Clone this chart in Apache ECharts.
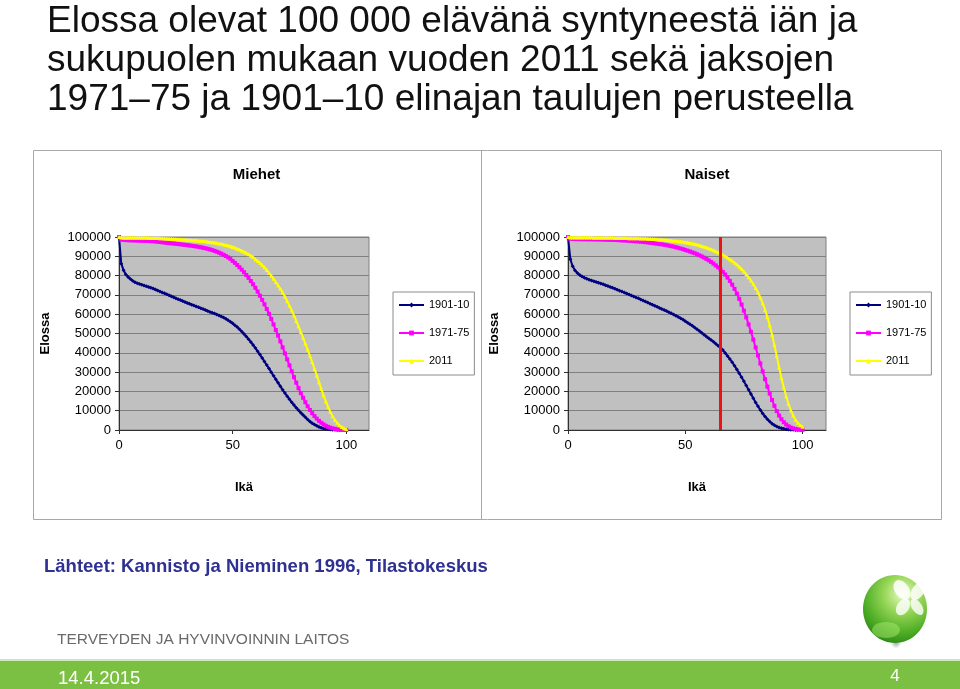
<!DOCTYPE html>
<html><head><meta charset="utf-8">
<script src="https://cdn.jsdelivr.net/npm/echarts@6/dist/echarts.min.js"></script>
<style>html,body{margin:0;padding:0;background:#fff}#c{width:960px;height:689px}</style>
</head><body><div id="c"></div>
<script>
// ---------------- DATA ----------------
const ages = Array.from({length: 101}, (_, i) => i);
const seriesNames = ['1901-10', '1971-75', '2011'];
const xTicks = [0, 50, 100];
const panelTitles = ['Miehet', 'Naiset'];
const redLineAge = 65;

// Men (Miehet)
const men1901 = [100000,86200,82800,80600,79300,78200,77300,76600,76100,75700,
75300,74900,74500,74100,73700,73300,72800,72300,71800,71300,
70800,70300,69800,69300,68800,68300,67800,67300,66800,66300,
65800,65350,64900,64450,64000,63550,63100,62650,62150,61700,
61200,60780,60340,59870,59370,58830,58240,57590,56880,56100,
55250,54320,53310,52220,51050,49800,48480,47080,45610,44070,
42460,40790,39070,37300,35500,33670,31820,29960,28100,26250,
24420,22620,20860,19140,17480,15880,14350,12890,11500,10190,
8950,7750,6600,5500,4450,3500,2800,2150,1600,1150,
800,540,350,220,130,80,45,25,12,6,3];
const men1971 = [100000,98600,98480,98400,98340,98290,98250,98210,98170,98130,
98090,98050,98000,97950,97890,97800,97690,97560,97420,97280,
97140,97000,96870,96740,96610,96480,96350,96210,96070,95930,
95780,95620,95460,95290,95110,94910,94690,94450,94190,93900,
93580,93220,92820,92380,91900,91370,90790,90160,89470,88710,
87600,86600,85500,84330,83080,81750,80330,78820,77210,75500,
73690,71700,69600,67400,65100,62700,60200,57500,54700,51800,
48900,45900,42800,39700,36600,33500,30400,27400,24500,21700,
19100,16700,14400,12300,10400,8700,7200,5900,4750,3750,
2900,2200,1650,1200,850,580,380,240,140,80,40];
const men2011 = [100000,99700,99670,99650,99630,99620,99610,99600,99590,99580,
99570,99560,99550,99540,99520,99500,99470,99430,99380,99320,
99250,99180,99110,99040,98970,98900,98830,98760,98690,98620,
98540,98460,98380,98290,98200,98100,97990,97870,97740,97600,
97450,97280,97100,96900,96680,96440,96170,95880,95560,95210,
94830,94410,93960,93470,92940,92370,91750,91080,90360,89580,
88500,87600,86600,85500,84300,82900,81500,80000,78400,76700,
75000,73200,71300,69200,66900,64500,62000,59300,56500,53700,
50800,47800,44800,41700,38500,35200,31800,28300,24800,21300,
18000,14900,12000,9400,7100,5200,3700,2500,1600,950,500];

// Women (Naiset)
const women1901 = [100000,88500,84800,82700,81300,80300,79500,78900,78400,77900,
77500,77100,76700,76300,75900,75500,75000,74550,74100,73650,
73200,72700,72200,71700,71200,70700,70200,69700,69200,68700,
68200,67650,67100,66550,66000,65450,64900,64350,63800,63250,
62700,62150,61600,61050,60450,59850,59250,58600,57900,57200,
56400,55600,54800,54000,53100,52200,51300,50400,49400,48400,
47500,46600,45700,44700,43700,42700,41500,39900,38400,36800,
35100,33300,31400,29400,27300,25200,23000,20800,18600,16400,
14300,12300,10400,8600,7000,5600,4400,3300,2500,1800,
1300,900,600,380,230,130,70,40,20,10,5];
const women1971 = [100000,99050,98980,98940,98910,98890,98870,98850,98830,98810,
98790,98770,98750,98730,98700,98670,98630,98590,98540,98490,
98440,98390,98330,98270,98200,98130,98050,97970,97880,97790,
97690,97580,97460,97330,97190,97040,96880,96710,96530,96330,
96200,96000,95780,95540,95280,95000,94700,94380,94040,93680,
93300,92900,92480,92040,91570,91070,90530,89950,89320,88640,
87900,87100,86230,85290,84270,83150,81920,80550,79000,77250,
75300,73100,70650,67950,65000,61800,58350,54700,50850,46850,
42750,38600,34450,30350,26350,22500,18900,15550,12500,9800,
7500,5600,4050,2850,1950,1300,850,540,330,200,120];
const women2011 = [100000,99780,99760,99750,99740,99730,99720,99710,99700,99690,
99680,99670,99660,99650,99640,99630,99610,99590,99570,99550,
99530,99510,99490,99470,99450,99430,99410,99380,99350,99320,
99290,99250,99210,99160,99110,99050,98990,98920,98840,98750,
98650,98560,98460,98350,98230,98100,97960,97810,97650,97480,
97300,97100,96880,96630,96360,96060,95730,95370,94980,94560,
94110,93630,93120,92580,92010,91400,90750,90050,89300,88500,
87640,86710,85700,84600,83400,82100,80700,79150,77450,75600,
73550,71250,68650,65700,62350,58550,54250,49400,44000,38300,
32500,27000,22000,17500,13600,10250,7500,5300,3700,2500,1700];

const titleLines = ['Elossa olevat 100 000 elävänä syntyneestä iän ja',
  'sukupuolen mukaan vuoden 2011 sekä jaksojen',
  '1971–75 ja 1901–10 elinajan taulujen perusteella'];
const sourceText = 'Lähteet: Kannisto ja Nieminen 1996, Tilastokeskus';
const orgText = 'TERVEYDEN JA HYVINVOINNIN LAITOS';
const dateText = '14.4.2015';
const pageText = '4';

// ---------------- CHART ----------------
const FONT = '"Liberation Sans", Arial, sans-serif';
const chart = echarts.init(document.getElementById('c'), null, {renderer: 'canvas'});

const styles = [
  {color: '#000080', symbol: 'diamond', size: 4},
  {color: '#ff00ff', symbol: 'rect', size: 4},
  {color: '#ffff00', symbol: 'triangle', size: 4}
];
const panels = [[men1901, men1971, men2011], [women1901, women1971, women2011]];
const grids = [
  {left: 119, top: 237, width: 250, height: 193},
  {left: 568, top: 237, width: 258, height: 193}
];

function toPairs(arr) { return ages.map((a, i) => [a, arr[i]]); }

const series = [];
panels.forEach((panel, gi) => {
  panel.forEach((arr, si) => {
    const s = {
      name: seriesNames[si], type: 'line', xAxisIndex: gi, yAxisIndex: gi,
      data: toPairs(arr), symbol: styles[si].symbol, symbolSize: styles[si].size,
      showSymbol: true, showAllSymbol: true,
      lineStyle: {color: styles[si].color, width: 2},
      itemStyle: {color: styles[si].color},
      z: 2 + si, animation: false
    };
    if (gi === 1 && si === 0) {
      s.markLine = {
        silent: true, symbol: 'none', label: {show: false},
        lineStyle: {color: '#ee1111', width: 3, type: 'solid'},
        data: [{xAxis: redLineAge}]
      };
    }
    series.push(s);
  });
});

const axisLabelStyle = {color: '#000', fontSize: 13, fontFamily: FONT};
const nameStyle = {color: '#000', fontSize: 13, fontWeight: 'bold', fontFamily: FONT};

const xAxes = grids.map((g, i) => ({
  gridIndex: i, type: 'value', min: 0, max: 110, interval: 50,
  name: 'Ikä', nameLocation: 'middle', nameGap: 51, nameTextStyle: nameStyle,
  axisLine: {show: true, onZero: false, lineStyle: {color: '#303030'}},
  axisTick: {show: true, length: 4, lineStyle: {color: '#303030'},
    customValues: xTicks},
  axisLabel: Object.assign({margin: 9, customValues: xTicks,
    formatter: v => (xTicks.indexOf(v) >= 0 ? String(v) : '')}, axisLabelStyle),
  splitLine: {show: false}
}));
const yAxes = grids.map((g, i) => ({
  gridIndex: i, type: 'value', min: 0, max: 100000, interval: 10000,
  name: 'Elossa', nameLocation: 'middle', nameGap: 67, nameTextStyle: nameStyle,
  axisLine: {show: true, lineStyle: {color: '#303030'}},
  axisTick: {show: true, length: 4, lineStyle: {color: '#303030'}},
  axisLabel: Object.assign({margin: 8, formatter: v => String(v)}, axisLabelStyle),
  splitLine: {show: true, lineStyle: {color: '#808080', width: 1}}
}));

function legendAt(left) {
  return {
    left: left, top: 292, orient: 'vertical', data: seriesNames,
    itemWidth: 25, itemHeight: 6, itemGap: 17,
    padding: [7.5, 5, 8.5, 5], borderColor: '#8c8c8c', borderWidth: 1,
    backgroundColor: '#ffffff', selectedMode: false,
    textStyle: {color: '#000', fontSize: 11, fontFamily: FONT}
  };
}

function txt(x, y, text, font, fill, align, valign) {
  return {type: 'text', x: x, y: y, silent: true,
    style: {text: text, font: font, fill: fill, align: align || 'left',
      verticalAlign: valign || 'middle', textAlign: align || 'left',
      textVerticalAlign: valign || 'middle'}};
}

const graphics = [
  {type: 'rect', silent: true, shape: {x: 33.5, y: 150.5, width: 908, height: 369},
    style: {fill: 'none', stroke: '#a8a8a8', lineWidth: 1}, z: -10},
  {type: 'line', silent: true, shape: {x1: 481.5, y1: 150.5, x2: 481.5, y2: 519.5},
    style: {stroke: '#a8a8a8', lineWidth: 1}, z: -10},
  txt(256.5, 175, panelTitles[0], 'bold 15px ' + FONT, '#000', 'center'),
  txt(707, 175, panelTitles[1], 'bold 15px ' + FONT, '#000', 'center'),
  txt(47, 22, titleLines[0], '37px ' + FONT, '#111', 'left'),
  txt(47, 61, titleLines[1], '37px ' + FONT, '#111', 'left'),
  txt(47, 99.5, titleLines[2], '37px ' + FONT, '#111', 'left'),
  txt(44, 567, sourceText, 'bold 18.5px ' + FONT, '#2e3192', 'left'),
  txt(57, 640, orgText, '15.5px ' + FONT, '#6a6a6a', 'left'),
  {type: 'rect', silent: true, shape: {x: 0, y: 661, width: 960, height: 28},
    style: {fill: '#7cc043'}},
  {type: 'rect', silent: true, shape: {x: 0, y: 659, width: 960, height: 2},
    style: {fill: '#cfe8b8'}},
  txt(58, 679, dateText, '18.5px ' + FONT, '#ffffff', 'left'),
  txt(895, 676, pageText, '17px ' + FONT, '#ffffff', 'center'),
  // logo sphere
  {type: 'ellipse', silent: true, shape: {cx: 896, cy: 643, rx: 30, ry: 6},
    style: {fill: new echarts.graphic.RadialGradient(0.5, 0.5, 0.5,
      [{offset: 0, color: 'rgba(90,100,90,0.6)'}, {offset: 0.6, color: 'rgba(150,160,150,0.3)'},
       {offset: 1, color: 'rgba(220,225,220,0)'}])}},
  {type: 'ellipse', silent: true, shape: {cx: 895, cy: 609, rx: 32, ry: 34},
    style: {fill: new echarts.graphic.RadialGradient(0.62, 0.28, 0.8,
      [{offset: 0, color: '#e8fbc8'}, {offset: 0.35, color: '#9ad85a'},
       {offset: 0.75, color: '#4fae26'}, {offset: 1, color: '#2e8a14'}])}},
  {type: 'ellipse', silent: true, x: 902, y: 590, rotation: 0.6, shape: {cx: 0, cy: 0, rx: 7, ry: 11},
    style: {fill: 'rgba(255,255,255,0.85)'}},
  {type: 'ellipse', silent: true, x: 918, y: 591, rotation: -0.6, shape: {cx: 0, cy: 0, rx: 6, ry: 10},
    style: {fill: 'rgba(255,255,255,0.85)'}},
  {type: 'ellipse', silent: true, x: 903, y: 607, rotation: -0.6, shape: {cx: 0, cy: 0, rx: 6, ry: 9},
    style: {fill: 'rgba(255,255,255,0.8)'}},
  {type: 'ellipse', silent: true, x: 917, y: 607, rotation: 0.6, shape: {cx: 0, cy: 0, rx: 5, ry: 9},
    style: {fill: 'rgba(255,255,255,0.8)'}},
  {type: 'ellipse', silent: true, shape: {cx: 886, cy: 630, rx: 14, ry: 8},
    style: {fill: 'rgba(180,240,120,0.45)'}}
];

chart.setOption({
  animation: false,
  backgroundColor: '#ffffff',
  grid: grids.map(g => Object.assign({show: true, backgroundColor: '#c0c0c0',
    borderColor: '#808080', borderWidth: 1, containLabel: false}, g)),
  xAxis: xAxes,
  yAxis: yAxes,
  legend: [legendAt(393), legendAt(850)],
  series: series,
  graphic: graphics
});
</script></body></html>
